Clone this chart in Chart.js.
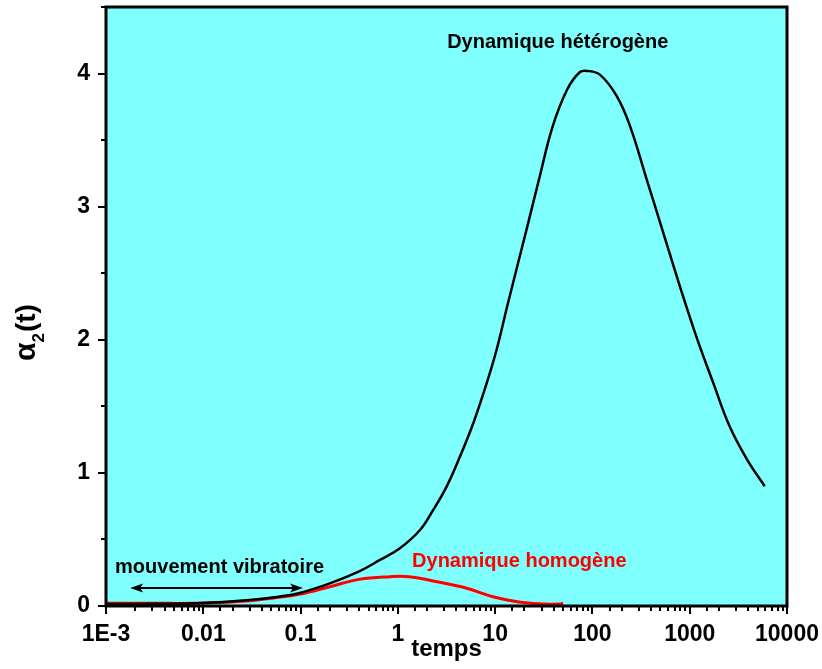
<!DOCTYPE html>
<html><head><meta charset="utf-8">
<script src="https://cdn.jsdelivr.net/npm/chart.js@4/dist/chart.umd.min.js"></script>
<style>html,body{margin:0;padding:0;background:#fff;overflow:hidden}</style>
</head><body>
<canvas id="c" width="822" height="669"></canvas>
<script>
// ---- data ----
const heteroT = [0.001, 0.003, 0.01, 0.03, 0.06, 0.1, 0.2, 0.4, 0.655, 1.05, 1.69, 2.31, 3.17, 4.35, 5.96, 8.19, 10.35, 13.6, 21.4, 28.8, 38.9, 55, 74, 89, 120, 178, 245, 363, 537, 794, 1175, 1738, 2570, 3890, 5900];
const heteroV = [0.015, 0.017, 0.022, 0.045, 0.07, 0.10, 0.17, 0.26, 0.346, 0.434, 0.571, 0.722, 0.897, 1.123, 1.373, 1.674, 1.925, 2.28, 2.85, 3.23, 3.60, 3.88, 4.01, 4.02, 3.99, 3.83, 3.60, 3.20, 2.80, 2.40, 2.02, 1.68, 1.35, 1.10, 0.90];
const homoT = [0.001, 0.003, 0.01, 0.03, 0.06, 0.1, 0.2, 0.4, 0.83, 1.3, 2.6, 5.0, 9.5, 17.5, 32, 45, 50];
const homoV = [0.02, 0.02, 0.022, 0.04, 0.065, 0.09, 0.145, 0.20, 0.22, 0.22, 0.18, 0.135, 0.07, 0.03, 0.015, 0.015, 0.02];
const xTickValues = [0.001, 0.01, 0.1, 1, 10, 100, 1000, 10000];
const xTickLabels = ['1E-3', '0.01', '0.1', '1', '10', '100', '1000', '10000'];
const yTickValues = [0, 1, 2, 3, 4];
const yTickLabels = ['0', '1', '2', '3', '4'];
const seriesNames = ['Dynamique hétérogène', 'Dynamique homogène'];
const noteText = 'mouvement vibratoire';
const arrowRange = [0.00177, 0.106]; // in temps units
const arrowLevel = 0.135;
const labelHetero = [44, 4.19];
const labelHomo = [1.40, 0.293];
const labelNote = [0.00124, 0.248];
const xTitle = 'temps';
// -----------------------------------------------

const FONT = "'Liberation Sans', Arial, sans-serif";
Chart.defaults.font.family = FONT;
Chart.defaults.color = '#000';

const toPts = (ts, vs) => ts.map((t, i) => ({x: t, y: vs[i]}));

const decor = {
  id: 'decor',
  beforeDraw(chart) {
    const {ctx, chartArea: a} = chart;
    ctx.save();
    ctx.fillStyle = '#80FFFF';
    ctx.fillRect(a.left, a.top, a.right - a.left, a.bottom - a.top);
    ctx.restore();
  },
  afterDatasetsDraw(chart) {
    const {ctx, chartArea: a} = chart;
    const xs = chart.scales.x, ys = chart.scales.y;
    ctx.save();
    // tick marks
    ctx.strokeStyle = '#000';
    ctx.lineWidth = 2;
    xs.ticks.forEach(t => {
      const lg = Math.log10(t.value);
      const major = Math.abs(lg - Math.round(lg)) < 1e-9;
      const px = Math.round(xs.getPixelForValue(t.value));
      ctx.beginPath();
      ctx.moveTo(px, a.bottom);
      ctx.lineTo(px, a.bottom + (major ? 8 : 5));
      ctx.stroke();
    });
    ys.ticks.forEach(t => {
      const major = Number.isInteger(t.value);
      const py = Math.round(ys.getPixelForValue(t.value));
      ctx.beginPath();
      ctx.moveTo(a.left, py);
      ctx.lineTo(a.left - (major ? 8 : 5), py);
      ctx.stroke();
    });
    // frame
    ctx.lineWidth = 3;
    ctx.strokeRect(a.left, a.top, a.right - a.left, a.bottom - a.top);

    // annotations
    ctx.font = 'bold 20px ' + FONT;
    ctx.textBaseline = 'alphabetic';
    ctx.fillStyle = '#000';
    ctx.textAlign = 'center';
    ctx.fillText(seriesNames[0], xs.getPixelForValue(labelHetero[0]), ys.getPixelForValue(labelHetero[1]));
    ctx.textAlign = 'left';
    ctx.fillStyle = '#FF0000';
    ctx.fillText(seriesNames[1], xs.getPixelForValue(labelHomo[0]), ys.getPixelForValue(labelHomo[1]));
    ctx.fillStyle = '#000';
    ctx.fillText(noteText, xs.getPixelForValue(labelNote[0]), ys.getPixelForValue(labelNote[1]));

    // double arrow
    const x1 = xs.getPixelForValue(arrowRange[0]);
    const x2 = xs.getPixelForValue(arrowRange[1]);
    const ay = ys.getPixelForValue(arrowLevel);
    ctx.lineWidth = 2;
    ctx.beginPath();
    ctx.moveTo(x1 + 8, ay); ctx.lineTo(x2 - 8, ay);
    ctx.stroke();
    ctx.beginPath();
    ctx.moveTo(x1, ay); ctx.lineTo(x1 + 13, ay - 4.5); ctx.lineTo(x1 + 10, ay); ctx.lineTo(x1 + 13, ay + 4.5); ctx.closePath();
    ctx.fill();
    ctx.beginPath();
    ctx.moveTo(x2, ay); ctx.lineTo(x2 - 13, ay - 4.5); ctx.lineTo(x2 - 10, ay); ctx.lineTo(x2 - 13, ay + 4.5); ctx.closePath();
    ctx.fill();

    // y-axis title: alpha_2(t), rotated
    ctx.translate(35, 361);
    ctx.rotate(-Math.PI / 2);
    ctx.textAlign = 'left';
    ctx.fillStyle = '#000';
    ctx.font = 'bold 30px ' + FONT;
    let x = 0;
    ctx.fillText('α', x, 0);
    x += ctx.measureText('α').width;
    ctx.font = 'bold 17px ' + FONT;
    ctx.fillText('2', x, 9);
    x += ctx.measureText('2').width + 1;
    ctx.font = 'bold 28px ' + FONT;
    ctx.fillText('(t)', x, 0);
    ctx.restore();
  }
};

const noEdgePad = (s) => { s.paddingLeft = 0; s.paddingRight = 0; s.paddingTop = 0; s.paddingBottom = 0; };

new Chart(document.getElementById('c'), {
  type: 'line',
  data: {
    datasets: [
      {label: seriesNames[0], data: toPts(heteroT, heteroV), borderColor: '#000', borderWidth: 2.5, pointRadius: 0, fill: false, tension: 0.4},
      {label: seriesNames[1], data: toPts(homoT, homoV), borderColor: '#FF0000', borderWidth: 3, pointRadius: 0, fill: false, tension: 0.4}
    ]
  },
  options: {
    responsive: false,
    animation: false,
    devicePixelRatio: 1,
    layout: {padding: {left: 0, right: 35, top: 7, bottom: 0}},
    plugins: {legend: {display: false}, tooltip: {enabled: false}},
    scales: {
      x: {
        type: 'logarithmic', min: 0.001, max: 10000,
        grid: {display: false, drawTicks: false},
        border: {display: false},
        ticks: {
          autoSkip: false, maxRotation: 0, minRotation: 0, padding: 15,
          color: '#000', font: {size: 23, weight: 'bold'},
          callback: (v) => {
            const i = xTickValues.findIndex(t => Math.abs(Math.log10(t) - Math.log10(v)) < 1e-9);
            return i >= 0 ? xTickLabels[i] : '';
          }
        },
        title: {display: true, text: xTitle, color: '#000', font: {size: 24, weight: 'bold'}, padding: {top: 0, bottom: 5}},
        afterFit: (s) => { s.height = 63; noEdgePad(s); }
      },
      y: {
        min: 0, max: 4.5,
        grid: {display: false, drawTicks: false},
        border: {display: false},
        ticks: {
          stepSize: 0.5, autoSkip: false, padding: 16,
          color: '#000', font: {size: 23, weight: 'bold'},
          callback: (v) => {
            const i = yTickValues.indexOf(v);
            return i >= 0 ? yTickLabels[i] : '';
          }
        },
        afterFit: (s) => { s.width = 106; noEdgePad(s); }
      }
    }
  },
  plugins: [decor]
});
</script>
</body></html>
